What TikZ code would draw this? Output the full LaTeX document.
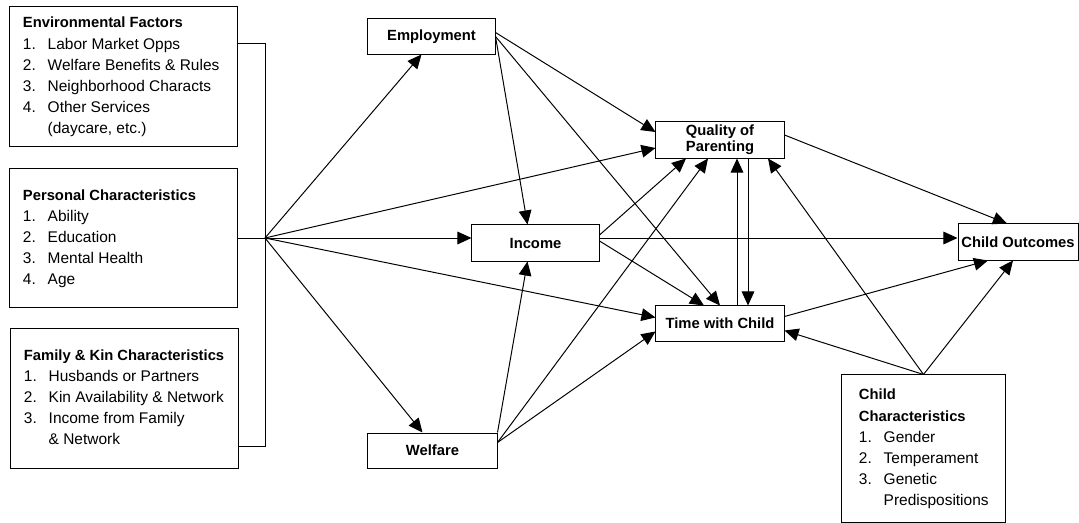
\documentclass[tikz,border=0pt]{standalone}
\usepackage{fontspec}
\setmainfont{Liberation Sans}
\usepackage{tikz}
\usetikzlibrary{positioning, arrows.meta}

\newcommand{\itm}[2]{\makebox[1.6em][l]{#1}#2}
\newcommand{\hd}[1]{{\fontsize{10.5}{15}\selectfont\bfseries #1}}
\newcommand{\boxtext}[2]{\makebox[#1][l]{\begin{tabular}{@{}l@{}}#2\end{tabular}}}

\begin{document}
\begin{tikzpicture}[x=0.025cm, y=-0.025cm,
    lbox/.style={draw, fill=white, line width=0.7pt, inner xsep=0.325cm, inner ysep=0pt,
      minimum width=5.675cm, font=\fontsize{11}{15}\selectfont},
    vbox/.style={draw, fill=white, line width=0.7pt, inner sep=0pt, align=center,
      minimum width=3.2cm, minimum height=0.875cm, font=\fontsize{10.5}{11.5}\selectfont\bfseries},
    arr/.style={line width=0.7pt, -{Triangle[length=10pt, width=9pt]}}]
    \useasboundingbox (0,0) rectangle (1079,523);

    % Left boxes with the factors
    \node[lbox, minimum height=3.475cm] (env) at (123.5,76.5) {\boxtext{5.025cm}{%
      \hd{Environmental Factors}\\
      \itm{1.}{Labor Market Opps}\\
      \itm{2.}{Welfare Benefits \& Rules}\\
      \itm{3.}{Neighborhood Characts}\\
      \itm{4.}{Other Services}\\
      \itm{}{(daycare, etc.)}}};

    \node[lbox, minimum height=3.45cm] (pers) at (123.5,238) {\boxtext{5.025cm}{%
      \hd{Personal Characteristics}\\
      \itm{1.}{Ability}\\
      \itm{2.}{Education}\\
      \itm{3.}{Mental Health}\\
      \itm{4.}{Age}}};

    \node[lbox, minimum height=3.475cm] (fam) at (124.5,398.5) {\boxtext{5.025cm}{%
      \hd{Family \& Kin Characteristics}\\
      \itm{1.}{Husbands or Partners}\\
      \itm{2.}{Kin Availability \& Network}\\
      \itm{3.}{Income from Family}\\
      \itm{}{\& Network}}};

    % Bracket joining the three boxes
    \coordinate (hub) at (265,238);
    \coordinate (brtop) at (265,43);
    \coordinate (brbot) at (265,446);
    \draw[line width=0.7pt] (env.east |- brtop) -- (brtop) -- (brbot) -- (fam.east |- brbot);
    \draw[line width=0.7pt] (pers.east) -- (hub);

    % Middle boxes
    \node[vbox, minimum width=3.175cm] (emp) at (431.5,36.5) {Employment};
    \node[vbox, minimum width=3.175cm, minimum height=0.9cm] (inc) at (535.5,243) {Income};
    \node[vbox, minimum width=3.225cm] (wel) at (432.5,450.5) {Welfare};
    \node[vbox, minimum height=0.9cm] (qual) at (720,140) {Quality of\\Parenting};
    \node[vbox] (time) at (720,323.5) {Time with Child};
    \node[vbox, minimum width=3.0cm, minimum height=0.9cm] (out) at (1018,242) {Child Outcomes};

    \node[lbox, minimum width=4.075cm, minimum height=3.675cm, inner xsep=0.425cm] (child)
      at (923.5,448.5) {\boxtext{3.225cm}{%
      \hd{Child}\\
      \hd{Characteristics}\\
      \itm{1.}{Gender}\\
      \itm{2.}{Temperament}\\
      \itm{3.}{Genetic}\\
      \itm{}{Predispositions}}};

    % From the factors
    \draw[arr] (hub) -- ([xshift=-0.25cm]emp.south);
    \draw[arr] (hub) -- ([yshift=-0.2cm]qual.west);
    \draw[arr] (hub) -- (inc.west |- hub);
    \draw[arr] (hub) -- ([yshift=0.15cm]time.west);
    \draw[arr] (hub) -- ([xshift=-0.25cm]wel.north);

    % From employment
    \draw[arr] ([yshift=0.1cm]emp.east) -- ([yshift=0.2cm]qual.west);
    \draw[arr] (emp.east) -- ([xshift=-0.2cm]inc.north);
    \draw[arr] (emp.east) -- (time.north);

    % From income
    \draw[arr] ([yshift=0.2cm]inc.east) -- ([xshift=-0.85cm]qual.south);
    \draw[arr] (inc.east |- hub) -- (out.west |- hub);
    \draw[arr] ([yshift=0.05cm]inc.east) -- ([xshift=-0.4cm]time.north);

    % From welfare
    \draw[arr] (wel.north east) -- ([xshift=-0.2cm]inc.south);
    \draw[arr] ([yshift=0.2cm]wel.east) -- ([xshift=-0.3cm]qual.south);
    \draw[arr] ([yshift=0.2cm]wel.east) -- ([yshift=-0.2cm]time.west);

    % Between parenting and time
    \draw[arr] ([xshift=0.425cm]time.north) -- ([xshift=0.425cm]time.north |- qual.south);
    \draw[arr] ([xshift=0.7cm]qual.south) -- ([xshift=0.7cm]qual.south |- time.north);

    % To the outcomes
    \draw[arr] ([yshift=0.125cm]qual.east) -- ([xshift=-0.275cm]out.north);
    \draw[arr] ([yshift=0.175cm]time.east) -- ([xshift=-0.75cm]out.south);

    % From child characteristics
    \draw[arr] (child.north) -- ([yshift=-0.175cm]time.east);
    \draw[arr] (child.north) -- ([xshift=1.2cm]qual.south);
    \draw[arr] (child.north) -- ([xshift=-0.125cm]out.south);
\end{tikzpicture}
\end{document}
